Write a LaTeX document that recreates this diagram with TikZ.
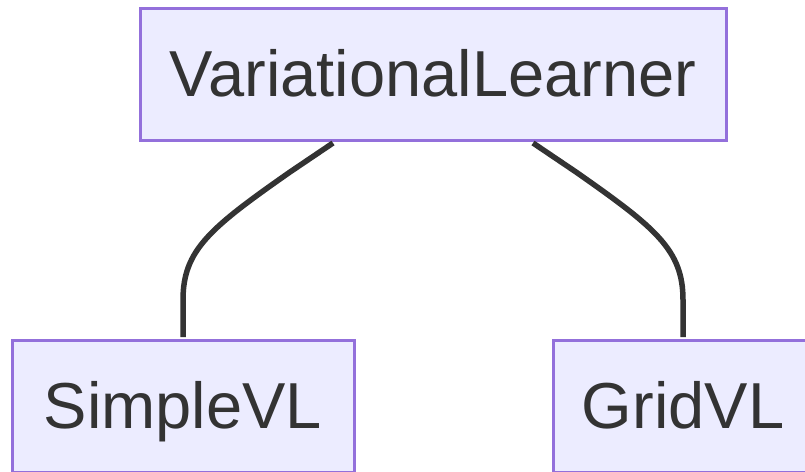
\documentclass[tikz,border=0pt]{standalone}
\usepackage{fontspec}
\setmainfont{Liberation Sans}
\definecolor{boxfill}{HTML}{ECECFF}
\definecolor{boxline}{HTML}{9370DB}
\definecolor{ink}{HTML}{333333}
\begin{document}
\begin{tikzpicture}[x=1pt,y=-1pt,
  classbox/.style={draw=boxline,fill=boxfill,line width=3pt,inner sep=0pt,
    minimum height=132pt,text=ink,font=\fontsize{65}{65}\selectfont,
    text height=47pt,text depth=3pt},
  link/.style={draw=ink,line width=5.5pt}]
\useasboundingbox (0,0) rectangle (805,471);
\node[classbox,minimum width=586pt] (vl) at (433,74) {VariationalLearner};
\node[classbox,minimum width=342pt] (simple) at (183,406) {SimpleVL};
\node[classbox,minimum width=260pt] (grid) at (683,406) {GridVL};
\path[link] ([xshift=-100pt,yshift=-1.5pt]vl.south) -- (290,172)
  .. controls (210,228) and (183,250) .. (183,300) -- ([yshift=1.5pt]simple.north);
\path[link] ([xshift=100pt,yshift=-1.5pt]vl.south) -- (576,172)
  .. controls (656,228) and (683,250) .. (683,300) -- ([yshift=1.5pt]grid.north);
\end{tikzpicture}
\end{document}
